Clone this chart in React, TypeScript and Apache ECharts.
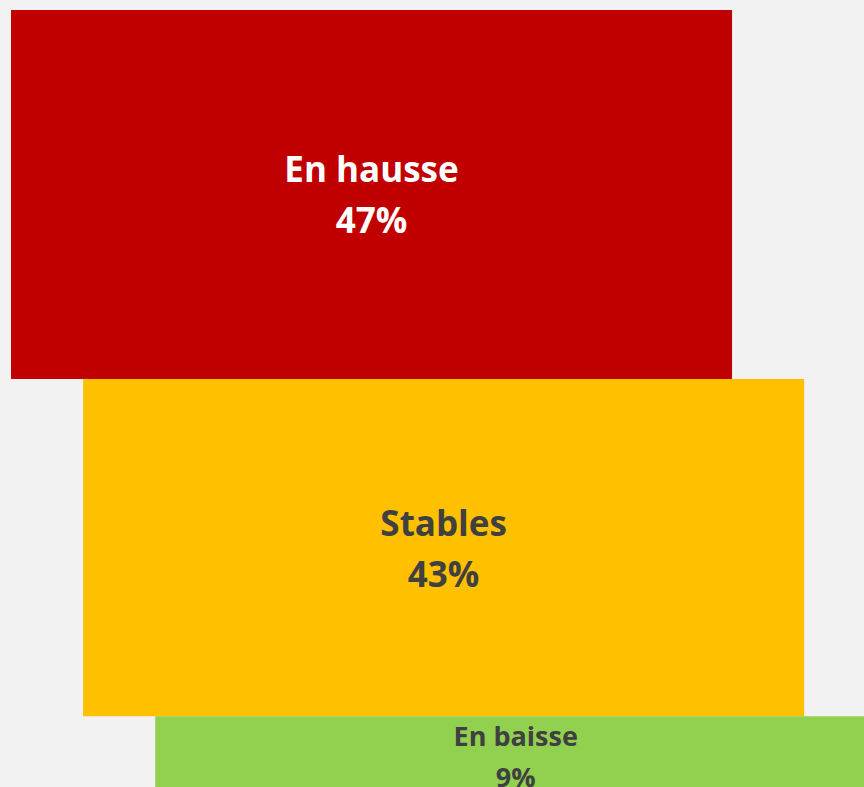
import React, { useEffect, useRef } from "react";
import * as echarts from "echarts";

const categories = ["En hausse", "Stables", "En baisse"];
const values = [47, 43, 9];
const colors = ["#C00000", "#FFC000", "#92D050"];
const labelColors = ["#FFFFFF", "#404040", "#404040"];
const fontSizes = [35, 35, 27];
const lineHeights = [51, 51, 41];
const labelOffsetY = [0, 0, 4];

export default function App() {
  const ref = useRef<HTMLDivElement>(null);
  useEffect(() => {
    if (!ref.current) return;
    const chart = echarts.init(ref.current, null, { renderer: "svg" });
    const total = values.reduce((a, b) => a + b, 0);
    const cum: number[] = [];
    let acc = 0;
    values.forEach((v) => {
      cum.push(acc);
      acc += v;
    });
    const SHIFT = 1;
    const WIDTH = 10;
    chart.setOption({
      animation: false,
      backgroundColor: "#F2F2F2",
      grid: { left: 11, top: 10, right: 0, bottom: 0 },
      xAxis: { type: "value", min: 0, max: 11.83, show: false },
      yAxis: { type: "value", min: 0, max: total, inverse: true, show: false },
      series: [
        {
          type: "custom",
          clip: false,
          data: values.map((v, i) => [i, v]),
          renderItem: (params: any, api: any) => {
            const i = params.dataIndex;
            const start = cum[i];
            const end = start + values[i];
            const p0 = api.coord([i * SHIFT, start]);
            const p1 = api.coord([i * SHIFT + WIDTH, end]);
            const cx = (p0[0] + p1[0]) / 2;
            const cy = (p0[1] + p1[1]) / 2 + labelOffsetY[i];
            return {
              type: "group",
              children: [
                {
                  type: "rect",
                  shape: { x: p0[0], y: p0[1], width: p1[0] - p0[0], height: p1[1] - p0[1] },
                  style: { fill: colors[i] },
                },
                {
                  type: "text",
                  x: cx,
                  y: cy,
                  style: {
                    text: `${categories[i]}\n${values[i]}%`,
                    align: "center",
                    verticalAlign: "middle",
                    fontFamily: "Open Sans",
                    fontWeight: "bold",
                    fontSize: fontSizes[i],
                    lineHeight: lineHeights[i],
                    fill: labelColors[i],
                  },
                },
              ],
            };
          },
        },
      ],
    });
    return () => chart.dispose();
  }, []);
  return (
    <div
      ref={ref}
      style={{ position: "fixed", left: 0, top: 0, width: 864, height: 787, background: "#F2F2F2" }}
    />
  );
}
